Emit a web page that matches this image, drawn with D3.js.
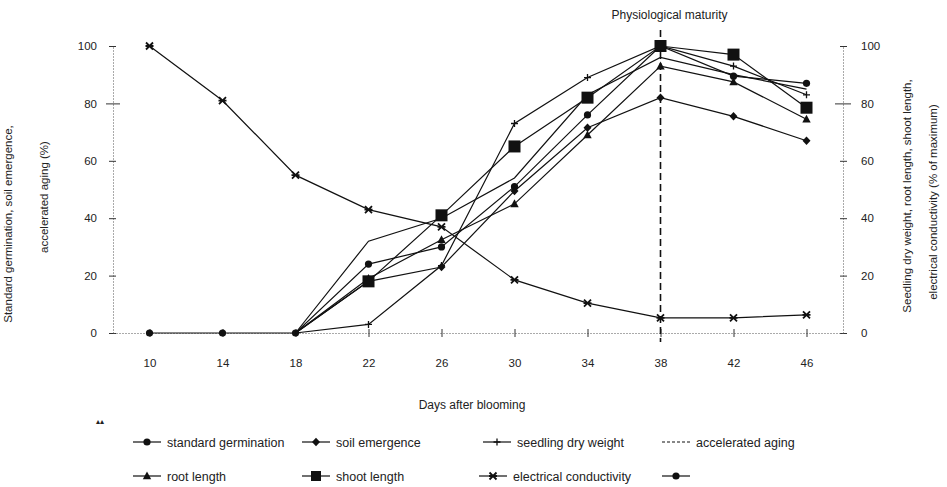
<!DOCTYPE html>
<html lang="en">
<head>
    <meta charset="UTF-8">
    <title>Seed quality vs days after blooming</title>
    <script src="https://d3js.org/d3.v7.min.js"></script>
    <style>
        body { margin: 0; background: #fff; }
        text { font-family: "Liberation Sans", Arial, sans-serif; fill: #222; }
    </style>
</head>
<body>
    <script>
        const width = 947;
        const height = 487;

        // days after blooming
        const days = [10, 14, 18, 22, 26, 30, 34, 38, 42, 46];
        const yTicks = [0, 20, 40, 60, 80, 100];

        // values (%); null = not plotted
        const standardGermination = [0, 0, 0, 24, 30, 51, 76, 100, 89.5, 87];
        const soilEmergence       = [null, null, 0, 18, 23, 49.5, 71.5, 82, 75.5, 67];
        const seedlingDryWeight   = [null, null, 0, 3, 23.5, 73, 89, 100, 93, 83];
        const acceleratedAging    = [null, null, 0, 32, 40, 54, 83, 96, 90, 85];
        const rootLength          = [null, null, 0, 19, 32.5, 45, 69, 93, 87.5, 74.5];
        const shootLength         = [null, null, 0, 18, 41, 65, 82, 100, 97, 78.5];
        const electricalCond      = [100, 81, 55, 43, 37, 18.5, 10.4, 5.3, 5.3, 6.3];

        const maturityDay = 38;

        const series = [
            {name: "standard germination", values: standardGermination, marker: "circle"},
            {name: "soil emergence", values: soilEmergence, marker: "diamond"},
            {name: "seedling dry weight", values: seedlingDryWeight, marker: "plus"},
            {name: "accelerated aging", values: acceleratedAging, marker: "none"},
            {name: "root length", values: rootLength, marker: "triangle"},
            {name: "shoot length", values: shootLength, marker: "bigsquare"},
            {name: "electrical conductivity", values: electricalCond, marker: "star"}
        ];

        const x = d3.scaleLinear().domain([8, 48]).range([113, 843]);
        const y = d3.scaleLinear().domain([0, 100]).range([333, 46]);

        const svg = d3.select("body").append("svg")
            .attr("width", width)
            .attr("height", height);

        function drawMarker(g, type) {
            if (type === "circle") {
                g.append("circle").attr("r", 3.6).attr("fill", "#111");
            } else if (type === "diamond") {
                g.append("path").attr("d", "M0,-4.2L4,0L0,4.2L-4,0Z").attr("fill", "#111");
            } else if (type === "triangle") {
                g.append("path").attr("d", "M0,-4.5L4.2,3.3L-4.2,3.3Z").attr("fill", "#111");
            } else if (type === "bigsquare") {
                g.append("rect").attr("x", -6).attr("y", -6).attr("width", 12).attr("height", 12).attr("fill", "#111");
            } else if (type === "midsquare") {
                g.append("rect").attr("x", -5).attr("y", -5).attr("width", 10).attr("height", 10).attr("fill", "#111");
            } else if (type === "plus") {
                g.append("path").attr("d", "M-3.5,0H3.5M0,-3.5V3.5").attr("stroke", "#111").attr("stroke-width", 1.3);
            } else if (type === "star") {
                g.append("path").attr("d", "M-3.5,-3.5L3.5,3.5M-3.5,3.5L3.5,-3.5M-4,0H4")
                    .attr("stroke", "#111").attr("stroke-width", 1.8);
            }
        }

        // axes
        const axisStyle = g => {
            g.select(".domain").attr("stroke", "#555").attr("stroke-dasharray", "1,2");
            g.selectAll(".tick line").attr("stroke", "#333");
            g.selectAll(".tick text").attr("font-size", 11.5).attr("fill", "#222");
        };

        svg.append("g")
            .attr("transform", `translate(${x.range()[0]},0)`)
            .call(d3.axisLeft(y).tickValues(yTicks).tickSize(4).tickPadding(12).tickSizeOuter(0))
            .call(axisStyle)
            .call(g => g.selectAll(".tick line").attr("x1", 3)
                .filter(d => d === 80).attr("x1", 7).attr("x2", -7));

        svg.append("g")
            .attr("transform", `translate(${x.range()[1]},0)`)
            .call(d3.axisRight(y).tickValues(yTicks).tickSize(4).tickPadding(14).tickSizeOuter(0))
            .call(axisStyle)
            .call(g => g.selectAll(".tick line").attr("x1", -3)
                .filter(d => d === 80).attr("x1", -8).attr("x2", 8));

        svg.append("g")
            .attr("transform", `translate(0,${y(0)})`)
            .call(d3.axisBottom(x).tickValues(days).tickSize(4).tickPadding(22).tickSizeOuter(0))
            .call(axisStyle)
            .call(g => g.selectAll(".tick line").attr("y1", -4));

        // physiological maturity line
        svg.append("line")
            .attr("x1", x(maturityDay)).attr("x2", x(maturityDay))
            .attr("y1", 30).attr("y2", 342)
            .attr("stroke", "#111").attr("stroke-width", 1.6)
            .attr("stroke-dasharray", "7,4");

        svg.append("text")
            .attr("x", x(maturityDay) + 9).attr("y", 19)
            .attr("text-anchor", "middle")
            .attr("font-size", 12)
            .text("Physiological maturity");

        // series
        const line = d3.line()
            .defined(d => d != null)
            .x((d, i) => x(days[i]))
            .y(d => y(d));

        const sg = svg.append("g").selectAll("g").data(series).join("g");

        sg.append("path")
            .attr("d", d => line(d.values))
            .attr("fill", "none")
            .attr("stroke", "#111")
            .attr("stroke-width", 1.2);

        sg.each(function(s) {
            if (s.marker === "none") return;
            const pts = s.values.map((v, i) => ({v, day: days[i]}))
                .filter(p => p.v != null && (p.v > 0 || s.marker === "circle"));
            d3.select(this).selectAll("g.pt")
                .data(pts)
                .join("g")
                .attr("class", "pt")
                .attr("transform", p => `translate(${x(p.day)},${y(p.v)})`)
                .each(function() { drawMarker(d3.select(this), s.marker); });
        });

        // axis titles
        svg.append("text")
            .attr("transform", "translate(12,224) rotate(-90)")
            .attr("text-anchor", "middle").attr("font-size", 11.5)
            .text("Standard germination, soil emergence,");
        svg.append("text")
            .attr("transform", "translate(48,197) rotate(-90)")
            .attr("text-anchor", "middle").attr("font-size", 11.5)
            .text("accelerated aging (%)");

        svg.append("text")
            .attr("transform", "translate(911,196) rotate(-90)")
            .attr("text-anchor", "middle").attr("font-size", 11.5)
            .text("Seedling dry weight, root length, shoot length,");
        svg.append("text")
            .attr("transform", "translate(937,202) rotate(-90)")
            .attr("text-anchor", "middle").attr("font-size", 11.5)
            .text("electrical conductivity (% of maximum)");

        svg.append("text")
            .attr("x", 472).attr("y", 409)
            .attr("text-anchor", "middle").attr("font-size", 12)
            .text("Days after blooming");

        // legend
        const legendItems = [
            {label: "standard germination", marker: "circle", lx: 133, ly: 442},
            {label: "soil emergence", marker: "diamond", lx: 302, ly: 442},
            {label: "seedling dry weight", marker: "plus", lx: 483, ly: 442},
            {label: "accelerated aging", marker: "none", lx: 662, ly: 442},
            {label: "root length", marker: "triangle", lx: 133, ly: 476},
            {label: "shoot length", marker: "midsquare", lx: 302, ly: 476},
            {label: "electrical conductivity", marker: "star", lx: 479, ly: 476},
            {label: "", marker: "circle", lx: 662, ly: 476}
        ];

        const lg = svg.append("g").selectAll("g").data(legendItems).join("g")
            .attr("transform", d => `translate(${d.lx},${d.ly})`);

        lg.append("line")
            .attr("x1", 0).attr("x2", 28)
            .attr("stroke", "#111").attr("stroke-width", 1.2)
            .attr("stroke-dasharray", d => d.marker === "none" ? "3,2" : null);

        lg.append("g")
            .attr("transform", "translate(14,0)")
            .each(function(d) { drawMarker(d3.select(this), d.marker); });

        lg.append("text")
            .attr("x", 34).attr("y", 4.5)
            .attr("font-size", 12.5)
            .text(d => d.label);

        // stray mark from the scan
        svg.append("text")
            .attr("x", 96).attr("y", 424)
            .attr("font-size", 8)
            .text("▴▴");
    </script>
</body>
</html>
